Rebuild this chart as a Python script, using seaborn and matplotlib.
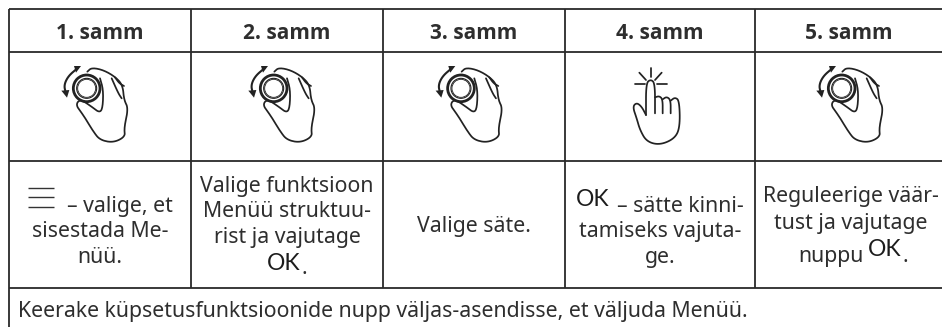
import numpy as np
import matplotlib
matplotlib.use("Agg")
import matplotlib.pyplot as plt
import seaborn as sns

headers = ["1. samm", "2. samm", "3. samm", "4. samm", "5. samm"]
col_edges = [9, 191, 382.7, 565, 755, 942]
row_edges = [9, 52, 160.7, 287.5]
footer = "Keerake küpsetusfunktsioonide nupp väljas-asendisse, et väljuda Menüü."

INK = "#2e2e2e"

# icon outlines (origin = top left of the crop)
hand_outline = [(262, 215), (275, 203), (310, 210), (345, 230), (368, 255), (372, 300), (385, 325),
                (372, 385), (376, 410), (340, 428), (300, 420), (280, 395), (250, 345), (230, 320),
                (232, 305), (245, 300), (275, 320), (298, 338), (308, 325), (310, 270), (300, 235)]
hand_finger_a = [(335, 235), (355, 280), (365, 295)]
hand_finger_b = [(345, 232), (358, 250), (372, 258)]
arrow_arc = [(232, 205), (205, 228), (192, 255), (197, 278)]
tap_hand = [(318, 225), (318, 130), (332, 118), (345, 130), (345, 220)]
tap_middle = [(345, 172), (358, 168), (368, 178), (368, 220)]
tap_ring = [(368, 178), (380, 170), (392, 180), (392, 220)]
tap_rest = [(392, 182), (405, 172), (418, 182), (420, 260), (405, 295), (360, 315), (320, 305),
            (300, 270), (290, 235), (278, 200), (290, 188), (305, 200), (318, 225)]
tap_rays = [[(332, 85), (332, 112)], [(298, 98), (318, 120)], [(365, 98), (345, 120)],
            [(285, 131), (315, 131)], [(350, 131), (380, 131)]]

sns.set_theme(style="white")
plt.rcParams["font.family"] = ["Noto Sans", "DejaVu Sans"]


def smooth(pts, n=3):
    pts = np.array(pts, dtype=float)
    for _ in range(n):
        mid_a = pts[:-1] * 0.75 + pts[1:] * 0.25
        mid_b = pts[:-1] * 0.25 + pts[1:] * 0.75
        inner = np.empty((len(mid_a) * 2, 2))
        inner[0::2] = mid_a
        inner[1::2] = mid_b
        pts = np.vstack([pts[0], inner, pts[-1]])
    return pts


def stroke(ax, pts, x0, y0, lw=1.25, soft=True):
    pts = smooth(pts) if soft else np.array(pts, dtype=float)
    sns.lineplot(x=pts[:, 0] / 3 + x0, y=pts[:, 1] / 3 + y0, sort=False, estimator=None,
                 color="#222222", lw=lw, ax=ax, legend=False)


def knob_icon(ax, x0):
    # x0 shifts the icon along the row, crop coordinates are those of zoom at (0, 0)
    for r, lw in [(40, 2.0), (30, 0.8), (27, 0.6)]:
        ax.add_patch(plt.Circle((260 / 3 + x0, 265 / 3), r / 3, fill=False, ec="#222222", lw=lw))
    stroke(ax, hand_outline, x0, 0)
    stroke(ax, hand_finger_a, x0, 0)
    stroke(ax, hand_finger_b, x0, 0)
    stroke(ax, arrow_arc, x0, 0, lw=1.5)
    ax.fill(np.array([222, 243, 228]) / 3 + x0, np.array([198, 198, 218]) / 3, color="#222222", lw=0)
    ax.fill(np.array([184, 208, 201]) / 3 + x0, np.array([272, 270, 293]) / 3, color="#222222", lw=0)


def tap_icon(ax, x0, y0):
    stroke(ax, tap_hand, x0, y0)
    stroke(ax, tap_middle, x0, y0)
    stroke(ax, tap_ring, x0, y0)
    stroke(ax, tap_rest, x0, y0)
    for ray in tap_rays:
        stroke(ax, ray, x0, y0, soft=False)


def body(ax, x, y, s, ha="center", size=15.3):
    ax.text(x, y, s, ha=ha, va="baseline", fontsize=size, color=INK)


def ok(ax, x, y):
    ax.text(x, y, "OK", ha="left", va="baseline", fontsize=16.5, family="Lato", color="#1c1c1c")


fig = plt.figure(figsize=(9.42, 3.27), dpi=100)
ax = fig.add_axes([0, 0, 1, 1])
ax.set_xlim(0, 942)
ax.set_ylim(327, 0)
ax.axis("off")

# table grid
ax.vlines(col_edges[:-1], row_edges[0], row_edges[-1], color="#2a2a2a", lw=1.3)
ax.vlines(col_edges[0], row_edges[-1], 327, color="#2a2a2a", lw=1.3)
ax.hlines(row_edges, col_edges[0], 942, color="#2a2a2a", lw=1.3)

centers = [(a + b) / 2 for a, b in zip(col_edges[:-1], col_edges[1:])]
for c, h in zip(centers, headers):
    ax.text(c, 39, h, ha="center", va="baseline", fontsize=15, fontweight="bold", family="Open Sans", color=INK)

# icons
for x0 in [0, 187, 374.3, 755]:
    knob_icon(ax, x0)
tap_icon(ax, 540, 40)

# column 1
ax.hlines([188.3, 197.3, 206.7], 28, 54, color="#333333", lw=1.0)
body(ax, 67, 211.7, "– valige, et", ha="left")
body(ax, 100, 237, "sisestada Me-")
body(ax, 100, 262.7, "nüü.")

# column 2
body(ax, 287, 191.7, "Valige funktsioon")
body(ax, 287, 217.3, "Menüü struktuu-")
body(ax, 287, 242.7, "rist ja vajutage")
ok(ax, 267, 270)
body(ax, 304, 274, ".", ha="center")

# column 3
body(ax, 474, 232, "Valige säte.")

# column 4
ok(ax, 576, 206)
body(ax, 617, 211.7, "– sätte kinni-", ha="left")
body(ax, 660, 237, "tamiseks vajuta-")
body(ax, 660, 262.7, "ge.")

# column 5
body(ax, 851, 202, "Reguleerige väär-")
body(ax, 851, 229, "tust ja vajutage")
body(ax, 798, 262, "nuppu", ha="left")
ok(ax, 868, 256.5)
body(ax, 905, 262, ".", ha="center")

body(ax, 18, 316.7, footer, ha="left")

fig.savefig("out.png", dpi=100)
plt.close(fig)
